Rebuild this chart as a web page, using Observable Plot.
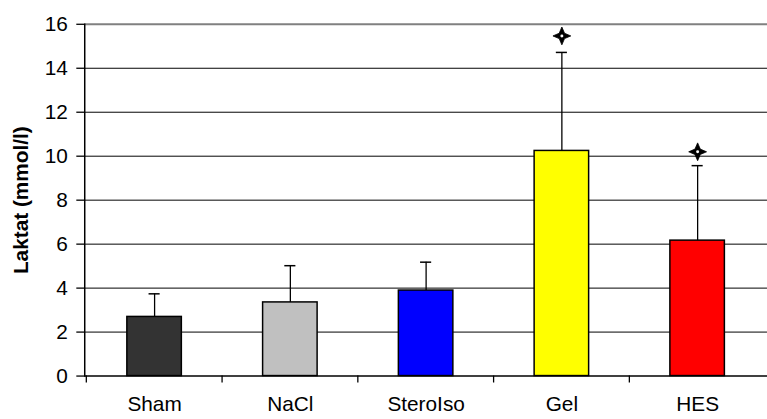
<!DOCTYPE html>
<html>
<head>
<meta charset="utf-8">
<script src="https://cdn.jsdelivr.net/npm/d3@7"></script>
<script src="https://cdn.jsdelivr.net/npm/@observablehq/plot@0.6"></script>
<style>
  html, body { margin: 0; padding: 0; background: #fff; overflow: hidden; }
  #chart { width: 767px; height: 419px; overflow: hidden; }
</style>
</head>
<body>
<div id="chart"></div>
<script>
const categories = ["Sham", "NaCl", "SteroIso", "Gel", "HES"];
const means = [2.69, 3.35, 3.89, 10.24, 6.16];
const upper = [3.74, 5.02, 5.18, 14.72, 9.57];
const colors = ["#333333", "#c0c0c0", "#0000ff", "#ffff00", "#ff0000"];
const starCategories = ["Gel", "HES"];
const starValues = [15.47, 10.2];
const yTicks = [0, 2, 4, 6, 8, 10, 12, 14, 16];
const gridTicks = [2, 4, 6, 8, 10, 12, 14];
const yLabel = "Laktat (mmol/l)";

const data = categories.map((c, i) => ({cat: c, mean: means[i], upper: upper[i], color: colors[i]}));
const stars = starCategories.map((c, i) => ({cat: c, y: starValues[i]}));

const width = 774, marginLeft = 85, marginRight = 0;
const step = (width - marginLeft - marginRight) / categories.length;

const star4 = {
  draw(ctx, size) {
    const R = Math.sqrt(size / Math.PI);
    const r = R * 0.3;
    ctx.moveTo(0, -R);
    ctx.lineTo(r, -r);
    ctx.lineTo(R, 0);
    ctx.lineTo(r, r);
    ctx.lineTo(0, R);
    ctx.lineTo(-r, r);
    ctx.lineTo(-R, 0);
    ctx.lineTo(-r, -r);
    ctx.closePath();
  }
};

const chart = Plot.plot({
  width,
  height: 419,
  marginTop: 24,
  marginBottom: 40,
  marginLeft,
  marginRight,
  style: {fontFamily: "'Liberation Sans', Arial, sans-serif", fontSize: "21px", color: "#000", background: "#fff"},
  x: {domain: categories, padding: 0, axis: null},
  y: {domain: [0, 16], axis: null},
  marks: [
    Plot.ruleY(gridTicks, {stroke: "#000", strokeWidth: 1}),
    Plot.ruleY([16], {stroke: "#808080", strokeWidth: 2}),
    Plot.ruleX(data, {x: "cat", y1: "mean", y2: "upper", stroke: "#000", strokeWidth: 1.3}),
    Plot.tickY(data, {x: "cat", y: "upper", stroke: "#000", strokeWidth: 1.5, insetLeft: step / 2 - 6, insetRight: step / 2 - 6}),
    Plot.barY(data, {x: "cat", y: "mean", fill: "color", stroke: "#000", strokeWidth: 1.5, insetLeft: 41, insetRight: 41}),
    Plot.dot(stars, {x: "cat", y: "y", symbol: star4, r: 9, fill: "#000", stroke: "#000", strokeWidth: 0.8}),
    Plot.dot(stars, {x: "cat", y: "y", r: 1.5, fill: "#fff", stroke: "none"}),
    Plot.ruleY([0], {stroke: "#000", strokeWidth: 1.5}),
    Plot.frame({anchor: "left", stroke: "#000", strokeWidth: 1.5}),
    Plot.axisY({ticks: yTicks, tickSize: 8, tickPadding: 9, strokeWidth: 1.3, fontSize: 21, label: null}),
    Plot.axisX({tickSize: 0, tickPadding: 20, fontSize: 21, label: null}),
    Plot.axisX({tickSize: 7, tickFormat: () => "", dx: -step / 2, strokeWidth: 1.3, label: null}),
    Plot.text([yLabel], {frameAnchor: "left", textAnchor: "middle", rotate: -90, dx: -64, fontWeight: "bold", fontSize: 21})
  ]
});
document.getElementById("chart").appendChild(chart);
</script>
</body>
</html>
